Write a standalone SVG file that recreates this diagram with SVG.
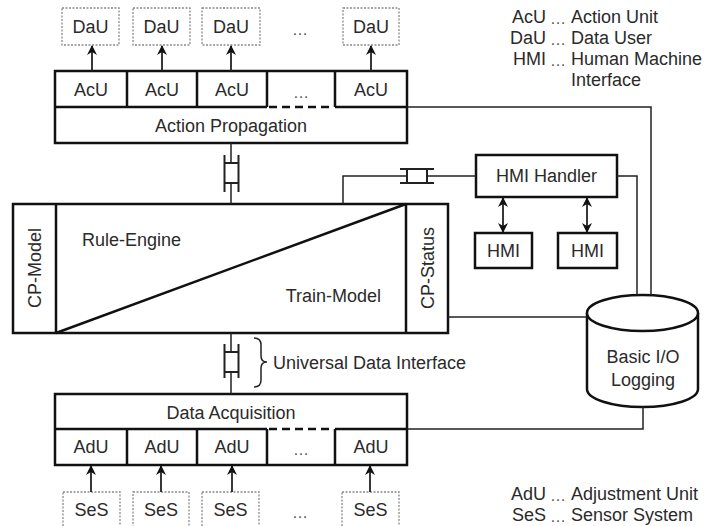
<svg xmlns="http://www.w3.org/2000/svg" width="706" height="526" viewBox="0 0 706 526">
<style>
.box{fill:#fff;stroke:#111;stroke-width:2.5}
.div{fill:none;stroke:#111;stroke-width:2.5}
.dash{fill:none;stroke:#111;stroke-width:2.5;stroke-dasharray:8 5}
.dbox{fill:#fff;stroke:#8a8a8a;stroke-width:1.3;stroke-dasharray:2 1.5}
.ln{fill:none;stroke:#222;stroke-width:1.5}
.arr{fill:none;stroke:#222;stroke-width:1.8;marker-end:url(#ah)}
.darr{fill:none;stroke:#222;stroke-width:1.8;marker-start:url(#ah);marker-end:url(#ah)}
.bar{fill:none;stroke:#222;stroke-width:2}
.t{font-family:"Liberation Sans",Arial,sans-serif;font-size:18px;fill:#2a2a2a;text-anchor:middle;dominant-baseline:central}
.l{text-anchor:start}
.e{text-anchor:end}
.dots{font-size:16px;fill:#555}
</style>
<defs>
<marker id="ah" viewBox="0 0 10 10" refX="9" refY="5" markerWidth="10" markerHeight="10" markerUnits="userSpaceOnUse" orient="auto-start-reverse">
<path d="M0,0 L10,5 L0,10 L3,5 z" fill="#111"/>
</marker>
</defs>

<g id="dau1"><rect class="dbox" x="62" y="8" width="57" height="37"/><text class="t" x="90.5" y="27">DaU</text></g>
<g id="dau2"><rect class="dbox" x="133" y="8" width="57" height="37"/><text class="t" x="161.5" y="27">DaU</text></g>
<g id="dau3"><rect class="dbox" x="202" y="8" width="58" height="37"/><text class="t" x="231" y="27">DaU</text></g>
<g id="dau-more"><text class="t dots" x="300" y="29">…</text></g>
<g id="dau4"><rect class="dbox" x="343" y="8" width="56" height="37"/><text class="t" x="371" y="27">DaU</text></g>

<g id="action-propagation">
<rect class="box" x="55" y="71" width="352" height="72"/>
<path class="div" d="M55,107 H267 M335,107 H407 M127,71 V107 M197,71 V107 M267,71 V107 M335,71 V107"/>
<path class="dash" d="M269,107 H333"/>
<text class="t" x="91" y="90">AcU</text>
<text class="t" x="162" y="90">AcU</text>
<text class="t" x="232" y="90">AcU</text>
<text class="t dots" x="301" y="92">…</text>
<text class="t" x="371" y="90">AcU</text>
<text class="t" x="231" y="126">Action Propagation</text>
</g>

<g id="core">
<rect class="box" x="13" y="204" width="435" height="129"/>
<path class="div" d="M56,204 V333 M406,204 V333 M56,333 L406,204"/>
<text class="t" transform="translate(35,268) rotate(-90)">CP-Model</text>
<text class="t" transform="translate(428,268) rotate(-90)">CP-Status</text>
<text class="t l" x="82" y="240">Rule-Engine</text>
<text class="t e" x="381" y="296">Train-Model</text>
</g>

<g id="hmi-handler"><rect class="box" x="476" y="155" width="141" height="42"/><text class="t" x="546.5" y="176">HMI Handler</text></g>
<g id="hmi1"><rect class="box" x="475" y="233" width="57" height="35"/><text class="t" x="503.5" y="250.5">HMI</text></g>
<g id="hmi2"><rect class="box" x="558" y="233" width="59" height="35"/><text class="t" x="587.5" y="250.5">HMI</text></g>

<g id="logging">
<path class="box" d="M587,313 V389 A55.5,18 0 0 0 698,389 V313"/>
<ellipse class="box" cx="642.5" cy="313" rx="55.5" ry="18"/>
<text class="t" x="643" y="357">Basic I/O</text>
<text class="t" x="643" y="380">Logging</text>
</g>

<g id="data-acquisition">
<rect class="box" x="55" y="394" width="352" height="71"/>
<path class="div" d="M55,429 H267 M335,429 H407 M127,429 V465 M197,429 V465 M267,429 V465 M335,429 V465"/>
<path class="dash" d="M269,429 H333"/>
<text class="t" x="231" y="413">Data Acquisition</text>
<text class="t" x="91" y="447">AdU</text>
<text class="t" x="162" y="447">AdU</text>
<text class="t" x="232" y="447">AdU</text>
<text class="t dots" x="301" y="449">…</text>
<text class="t" x="371" y="447">AdU</text>
</g>

<g id="ses1"><rect class="dbox" x="63" y="492" width="57" height="37"/><text class="t" x="91.5" y="510">SeS</text></g>
<g id="ses2"><rect class="dbox" x="133" y="492" width="56" height="37"/><text class="t" x="161" y="510">SeS</text></g>
<g id="ses3"><rect class="dbox" x="202" y="492" width="57" height="37"/><text class="t" x="230.5" y="510">SeS</text></g>
<g id="ses-more"><text class="t dots" x="300" y="512">…</text></g>
<g id="ses4"><rect class="dbox" x="342" y="492" width="57" height="37"/><text class="t" x="370.5" y="510">SeS</text></g>

<g id="connectors">
<path class="arr" d="M92,71 V46"/>
<path class="arr" d="M162,71 V46"/>
<path class="arr" d="M231,71 V46"/>
<path class="arr" d="M371,71 V46"/>
<path class="arr" d="M91,492 V466"/>
<path class="arr" d="M161,492 V466"/>
<path class="arr" d="M232,492 V466"/>
<path class="arr" d="M370,492 V466"/>
<path class="darr" d="M503,198 V232"/>
<path class="darr" d="M587,198 V232"/>
<path class="ln" d="M231,143 V163 M231,183 V204"/>
<path class="bar" d="M224.5,155 V192 M238.5,155 V192 M224.5,163 H238.5 M224.5,183 H238.5"/>
<path class="ln" d="M231,333 V352 M231,372 V394"/>
<path class="bar" d="M224.5,344 V378 M238.5,344 V378 M224.5,352 H238.5 M224.5,372 H238.5"/>
<path class="ln" d="M254,338 Q261,338 261,345 V356 Q261,362 267,362 Q261,362 261,368 V380 Q261,387 254,387"/>
<path class="ln" d="M343,204 V176 H407 M427,176 H476"/>
<path class="bar" d="M400,169 H434 M400,183 H434 M407,169 V183 M427,169 V183"/>
<path class="ln" d="M407,107 H651 V295"/>
<path class="ln" d="M617,176 H637 V295"/>
<path class="ln" d="M448,317 H587"/>
<path class="ln" d="M643,407 V429 H407"/>
</g>
<text class="t l" x="273" y="363">Universal Data Interface</text>

<g id="legend">
<text class="t e" x="546" y="17">AcU</text><text class="t l dots" x="550" y="18">…</text><text class="t l" x="571" y="17">Action Unit</text>
<text class="t e" x="546" y="38">DaU</text><text class="t l dots" x="550" y="39">…</text><text class="t l" x="571" y="38">Data User</text>
<text class="t e" x="546" y="59">HMI</text><text class="t l dots" x="550" y="60">…</text><text class="t l" x="571" y="59">Human Machine</text>
<text class="t l" x="571" y="80">Interface</text>
<text class="t e" x="546" y="494">AdU</text><text class="t l dots" x="550" y="495">…</text><text class="t l" x="571" y="494">Adjustment Unit</text>
<text class="t e" x="546" y="515">SeS</text><text class="t l dots" x="550" y="516">…</text><text class="t l" x="571" y="515">Sensor System</text>
</g>
</svg>
